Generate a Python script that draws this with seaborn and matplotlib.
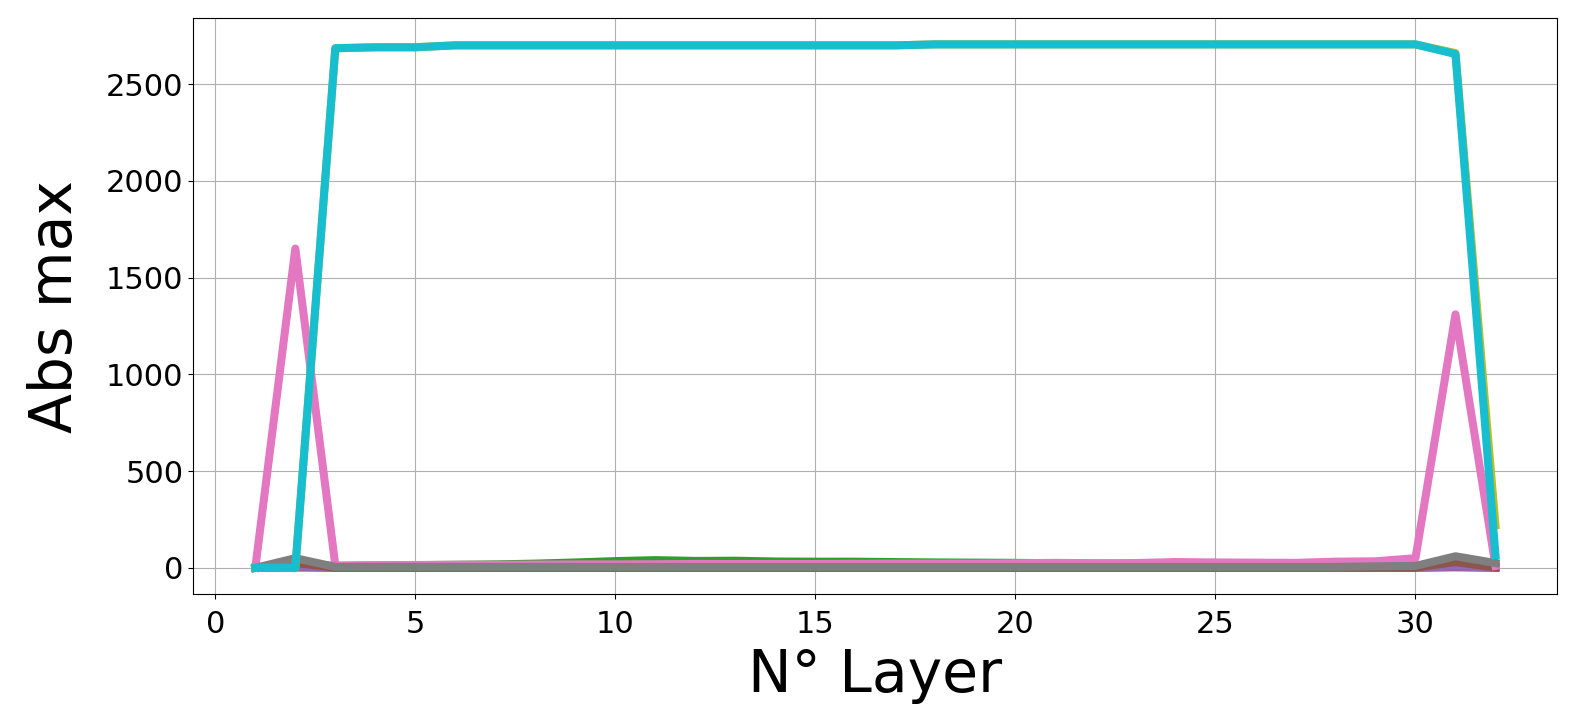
import numpy as np
import pandas as pd
import seaborn as sns
import matplotlib
matplotlib.use("Agg")
import matplotlib.pyplot as plt

# layers 1..32
layers = list(range(1, 33))

# abs max per layer, one list per series (tab10 order)
blue   = [0, 5, 3, 3, 3, 3, 3, 3, 3, 3, 3, 3, 3, 3, 3, 3, 3, 3, 3, 3, 3, 3, 3, 3, 3, 3, 3, 3, 3, 3, 5, 3]
orange = [0, 8, 4, 4, 4, 4, 4, 4, 4, 4, 4, 4, 4, 4, 4, 4, 4, 4, 4, 4, 4, 4, 4, 4, 4, 4, 4, 4, 4, 4, 8, 4]
green  = [0, 20, 10, 12, 14, 16, 18, 22, 28, 35, 40, 36, 37, 33, 32, 32, 30, 28, 27, 26, 24, 22, 20, 18, 18, 16, 15, 15, 14, 12, 20, 10]
red    = [0, 2, 1, 1, 1, 1, 1, 1, 1, 1, 1, 1, 1, 1, 1, 1, 1, 1, 1, 1, 1, 1, 1, 1, 1, 1, 1, 1, 1, 1, 3, 1]
purple = [0, 6, 3, 3, 3, 3, 3, 3, 3, 3, 3, 3, 3, 3, 3, 3, 3, 3, 3, 3, 3, 3, 3, 3, 3, 3, 3, 3, 3, 3, 6, 3]
brown  = [0, 25, 2, 2, 2, 2, 2, 2, 2, 2, 2, 2, 2, 2, 2, 2, 2, 2, 2, 2, 2, 2, 2, 2, 2, 2, 2, 2, 2, 2, 30, 2]
pink   = [0, 1650, 12, 14, 15, 16, 16, 17, 18, 18, 19, 20, 20, 20, 20, 21, 22, 22, 22, 24, 26, 24, 25, 30, 28, 27, 26, 32, 34, 50, 1310, 10]
gray   = [0, 50, 5, 5, 5, 5, 5, 5, 5, 5, 5, 5, 5, 5, 5, 5, 5, 5, 5, 5, 5, 5, 5, 5, 5, 5, 5, 5, 8, 10, 60, 25]
olive  = [0, 0, 2685, 2690, 2690, 2700, 2700, 2700, 2700, 2700, 2700, 2700, 2700, 2700, 2700, 2700, 2700,
          2705, 2705, 2705, 2705, 2705, 2705, 2705, 2705, 2705, 2705, 2705, 2705, 2705, 2660, 220]
cyan   = [0, 0, 2685, 2690, 2690, 2700, 2700, 2700, 2700, 2700, 2700, 2700, 2700, 2700, 2700, 2700, 2700,
          2705, 2705, 2705, 2705, 2705, 2705, 2705, 2705, 2705, 2705, 2705, 2705, 2705, 2655, 65]

series = {"blue": blue, "orange": orange, "green": green, "red": red, "purple": purple,
          "brown": brown, "pink": pink, "gray": gray, "olive": olive, "cyan": cyan}

df = pd.concat([pd.DataFrame({"layer": layers, "absmax": v, "series": k}) for k, v in series.items()])

fig = plt.figure(figsize=(15.78, 7.28), dpi=100)
ax = fig.add_axes([0.1225, 0.184, 0.8645, 0.791])
sns.lineplot(data=df, x="layer", y="absmax", hue="series",
             palette=sns.color_palette("tab10", 10), linewidth=5.8, legend=False, ax=ax)
ax.grid(True)
ax.set_xlabel("N° Layer", fontsize=42, labelpad=6)
ax.set_ylabel("Abs max", fontsize=42, labelpad=16)
ax.tick_params(labelsize=22)
ax.tick_params(axis="x", pad=8)
fig.savefig("out.png", dpi=100)
